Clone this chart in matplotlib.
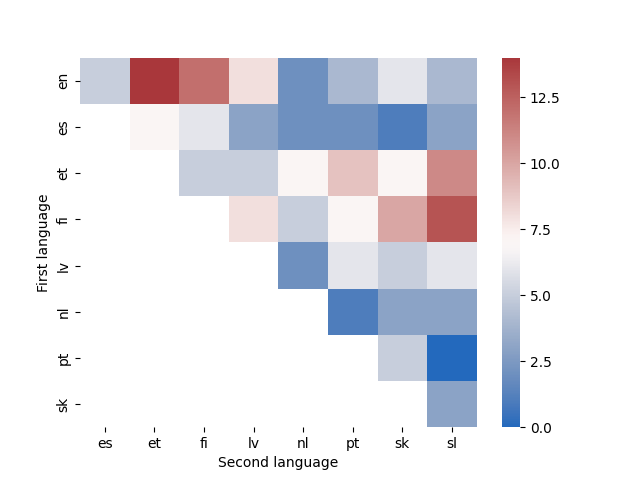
import numpy as np
import pandas as pd
import matplotlib
matplotlib.use('Agg')
import matplotlib.pyplot as plt
import seaborn as sns

first_langs = ['en', 'es', 'et', 'fi', 'lv', 'nl', 'pt', 'sk']
second_langs = ['es', 'et', 'fi', 'lv', 'nl', 'pt', 'sk', 'sl']

nan = np.nan
values = [
    [5, 14, 12, 8, 2, 4, 6, 4],
    [nan, 7, 6, 3, 2, 2, 1, 3],
    [nan, nan, 5, 5, 7, 9, 7, 11],
    [nan, nan, nan, 8, 5, 7, 10, 13],
    [nan, nan, nan, nan, 2, 6, 5, 6],
    [nan, nan, nan, nan, nan, 1, 3, 3],
    [nan, nan, nan, nan, nan, nan, 5, 0],
    [nan, nan, nan, nan, nan, nan, nan, 3],
]
cbar_ticks = [0.0, 2.5, 5.0, 7.5, 10.0, 12.5]

df = pd.DataFrame(values, index=first_langs, columns=second_langs)

fig, ax = plt.subplots(figsize=(6.4, 4.8), dpi=100)
sns.heatmap(df, cmap='vlag', ax=ax, cbar_kws={'ticks': cbar_ticks})
ax.set_xlabel('Second language')
ax.set_ylabel('First language')
plt.setp(ax.get_yticklabels(), rotation=90, va='center')
plt.savefig('out.png')
